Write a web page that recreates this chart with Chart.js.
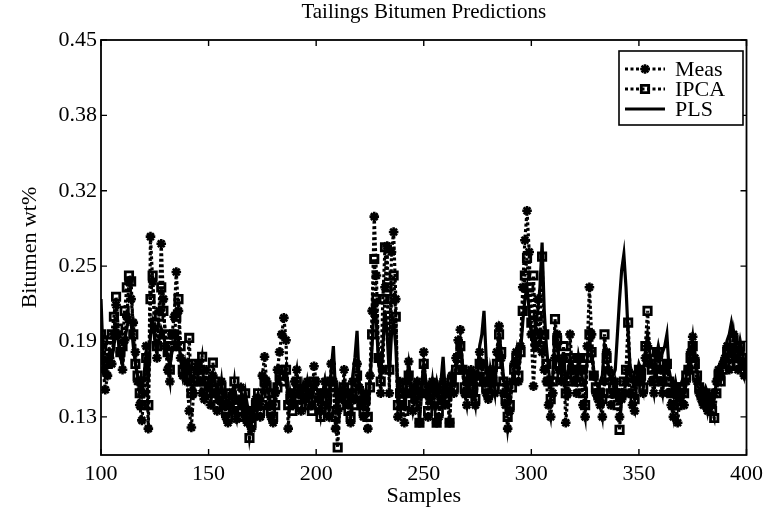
<!DOCTYPE html>
<html>
<head>
<meta charset="utf-8">
<script src="https://cdn.jsdelivr.net/npm/chart.js@4"></script>
<style>
  html, body { margin: 0; padding: 0; background: #ffffff; }
  #wrap { width: 769px; height: 515px; }
</style>
</head>
<body>
<div id="wrap"><canvas id="c" width="769" height="515"></canvas></div>
<script>
// ---- data ----
const chartTitle = 'Tailings Bitumen Predictions';
const xTitle = 'Samples';
const yTitle = 'Bitumen wt%';
const seriesNames = ['Meas', 'IPCA', 'PLS'];
const firstSample = 100;
const lastSample = 400;
const xTickValues = [100, 150, 200, 250, 300, 350, 400];
const yTickValues = [0.13, 0.194, 0.258, 0.322, 0.386, 0.45];
const yTickLabels = ['0.13', '0.19', '0.25', '0.32', '0.38', '0.45'];

const meas = [
  0.190,0.170,0.153,0.165,0.180,0.175,0.200,0.225,0.200,0.185, // 100
  0.170,0.195,0.215,0.245,0.230,0.210,0.185,0.160,0.140,0.127, // 110
  0.150,0.190,0.120,0.283,0.245,0.205,0.180,0.220,0.277,0.230, // 120
  0.190,0.170,0.160,0.200,0.215,0.253,0.220,0.180,0.165,0.175, // 130
  0.160,0.135,0.121,0.150,0.170,0.175,0.160,0.150,0.145,0.170, // 140
  0.155,0.140,0.165,0.150,0.135,0.145,0.160,0.140,0.130,0.125, // 150
  0.140,0.150,0.135,0.128,0.145,0.155,0.140,0.130,0.125,0.135, // 160
  0.120,0.130,0.145,0.140,0.130,0.165,0.181,0.160,0.140,0.130, // 170
  0.125,0.150,0.170,0.185,0.200,0.214,0.195,0.120,0.150,0.140, // 180
  0.160,0.170,0.150,0.135,0.155,0.145,0.160,0.150,0.140,0.173, // 190
  0.160,0.145,0.135,0.150,0.160,0.140,0.130,0.175,0.160,0.120, // 200
  0.135,0.150,0.145,0.170,0.150,0.140,0.125,0.160,0.145,0.175, // 210
  0.155,0.140,0.130,0.150,0.120,0.165,0.220,0.300,0.250,0.180, // 220
  0.150,0.170,0.240,0.275,0.150,0.270,0.287,0.230,0.130,0.160, // 230
  0.140,0.125,0.160,0.177,0.150,0.135,0.145,0.160,0.125,0.150, // 240
  0.185,0.150,0.130,0.145,0.160,0.140,0.125,0.130,0.145,0.160, // 250
  0.140,0.150,0.125,0.165,0.150,0.180,0.195,0.204,0.170,0.150, // 260
  0.140,0.160,0.170,0.150,0.140,0.165,0.185,0.175,0.160,0.150, // 270
  0.145,0.170,0.160,0.150,0.185,0.207,0.180,0.150,0.140,0.120, // 280
  0.135,0.160,0.175,0.185,0.160,0.190,0.240,0.280,0.305,0.270, // 290
  0.200,0.156,0.190,0.230,0.200,0.185,0.170,0.160,0.140,0.130, // 300
  0.150,0.180,0.200,0.170,0.160,0.180,0.125,0.150,0.200,0.170, // 310
  0.160,0.150,0.180,0.170,0.140,0.130,0.190,0.240,0.200,0.165, // 320
  0.150,0.145,0.140,0.130,0.160,0.185,0.170,0.140,0.150,0.160, // 330
  0.150,0.130,0.145,0.150,0.160,0.170,0.150,0.140,0.135,0.160, // 340
  0.170,0.165,0.150,0.180,0.190,0.175,0.160,0.150,0.170,0.180, // 350
  0.160,0.150,0.170,0.175,0.150,0.140,0.130,0.150,0.125,0.145, // 360
  0.150,0.140,0.160,0.170,0.185,0.198,0.180,0.160,0.150,0.145, // 370
  0.140,0.150,0.135,0.145,0.140,0.150,0.160,0.170,0.165,0.175, // 380
  0.180,0.190,0.170,0.185,0.200,0.180,0.170,0.185,0.175,0.165, // 390
  0.175                                                        // 400
];

const ipca = [
  0.200,0.195,0.180,0.175,0.190,0.200,0.215,0.232,0.205,0.185, // 100
  0.190,0.220,0.240,0.250,0.245,0.200,0.175,0.165,0.150,0.140, // 110
  0.160,0.180,0.140,0.230,0.250,0.210,0.190,0.215,0.240,0.220, // 120
  0.200,0.185,0.170,0.190,0.200,0.215,0.230,0.190,0.170,0.175, // 130
  0.165,0.197,0.150,0.160,0.175,0.160,0.170,0.181,0.160,0.150, // 140
  0.160,0.150,0.176,0.160,0.140,0.150,0.155,0.140,0.135,0.130, // 150
  0.150,0.145,0.160,0.140,0.135,0.130,0.140,0.150,0.130,0.112, // 160
  0.125,0.135,0.140,0.150,0.135,0.140,0.160,0.155,0.150,0.135, // 170
  0.130,0.140,0.155,0.165,0.170,0.160,0.170,0.140,0.145,0.135, // 180
  0.150,0.160,0.145,0.140,0.150,0.140,0.155,0.150,0.135,0.160, // 190
  0.150,0.140,0.130,0.145,0.150,0.145,0.135,0.160,0.155,0.130, // 200
  0.104,0.140,0.150,0.155,0.145,0.135,0.130,0.150,0.140,0.165, // 210
  0.150,0.140,0.135,0.145,0.130,0.155,0.200,0.264,0.230,0.180, // 220
  0.160,0.230,0.274,0.240,0.170,0.230,0.250,0.215,0.140,0.150, // 230
  0.140,0.135,0.155,0.165,0.150,0.140,0.150,0.155,0.125,0.150, // 240
  0.175,0.155,0.135,0.150,0.155,0.145,0.125,0.135,0.150,0.155, // 250
  0.145,0.150,0.125,0.160,0.155,0.170,0.180,0.190,0.170,0.155, // 260
  0.150,0.160,0.165,0.155,0.145,0.160,0.175,0.170,0.160,0.155, // 270
  0.150,0.165,0.160,0.155,0.175,0.200,0.185,0.160,0.145,0.130, // 280
  0.140,0.155,0.170,0.180,0.165,0.185,0.220,0.250,0.265,0.240, // 290
  0.210,0.250,0.200,0.215,0.190,0.266,0.200,0.175,0.160,0.145, // 300
  0.160,0.213,0.195,0.175,0.165,0.190,0.150,0.160,0.180,0.170, // 310
  0.165,0.160,0.180,0.170,0.150,0.140,0.180,0.200,0.185,0.165, // 320
  0.155,0.150,0.150,0.145,0.200,0.180,0.165,0.150,0.155,0.150, // 330
  0.140,0.119,0.150,0.160,0.170,0.210,0.165,0.150,0.145,0.160, // 340
  0.170,0.165,0.155,0.190,0.220,0.185,0.170,0.160,0.175,0.185, // 350
  0.165,0.160,0.170,0.175,0.160,0.150,0.140,0.155,0.140,0.150, // 360
  0.155,0.150,0.165,0.170,0.180,0.190,0.175,0.165,0.155,0.150, // 370
  0.145,0.150,0.140,0.145,0.135,0.129,0.150,0.165,0.160,0.170, // 380
  0.175,0.185,0.175,0.180,0.195,0.185,0.175,0.190,0.180,0.170, // 390
  0.175                                                        // 400
];

const pls = [
  0.230,0.180,0.170,0.175,0.185,0.180,0.190,0.205,0.195,0.180, // 100
  0.175,0.195,0.205,0.215,0.210,0.190,0.175,0.165,0.160,0.150, // 110
  0.165,0.185,0.160,0.200,0.210,0.195,0.185,0.195,0.205,0.200, // 120
  0.190,0.180,0.175,0.185,0.190,0.200,0.195,0.180,0.170,0.170, // 130
  0.165,0.175,0.160,0.165,0.170,0.165,0.170,0.170,0.160,0.155, // 140
  0.160,0.150,0.165,0.160,0.150,0.150,0.155,0.150,0.145,0.140, // 150
  0.150,0.145,0.155,0.145,0.140,0.140,0.145,0.150,0.140,0.135, // 160
  0.135,0.140,0.145,0.150,0.140,0.150,0.160,0.155,0.150,0.140, // 170
  0.140,0.150,0.160,0.165,0.170,0.165,0.160,0.150,0.150,0.145, // 180
  0.155,0.160,0.150,0.145,0.150,0.145,0.155,0.150,0.145,0.160, // 190
  0.155,0.150,0.145,0.150,0.160,0.150,0.145,0.170,0.190,0.150, // 200
  0.140,0.155,0.150,0.160,0.150,0.145,0.140,0.165,0.180,0.203, // 210
  0.160,0.150,0.145,0.150,0.140,0.160,0.190,0.230,0.210,0.175, // 220
  0.165,0.190,0.220,0.200,0.165,0.200,0.210,0.190,0.150,0.155, // 230
  0.150,0.145,0.160,0.175,0.160,0.150,0.155,0.160,0.150,0.155, // 240
  0.175,0.160,0.145,0.155,0.160,0.150,0.160,0.150,0.160,0.181, // 250
  0.150,0.155,0.150,0.165,0.160,0.170,0.185,0.195,0.175,0.160, // 260
  0.155,0.165,0.170,0.165,0.155,0.170,0.190,0.200,0.220,0.180, // 270
  0.160,0.170,0.165,0.160,0.180,0.200,0.185,0.165,0.155,0.145, // 280
  0.150,0.160,0.170,0.180,0.170,0.185,0.210,0.230,0.240,0.220, // 290
  0.200,0.190,0.210,0.220,0.240,0.278,0.220,0.190,0.170,0.155, // 300
  0.165,0.200,0.190,0.180,0.170,0.185,0.160,0.165,0.180,0.175, // 310
  0.170,0.165,0.175,0.170,0.160,0.155,0.180,0.195,0.185,0.170, // 320
  0.160,0.155,0.160,0.165,0.190,0.180,0.170,0.160,0.165,0.170, // 330
  0.200,0.230,0.255,0.268,0.240,0.200,0.170,0.160,0.155,0.165, // 340
  0.175,0.170,0.165,0.185,0.200,0.185,0.175,0.170,0.180,0.190, // 350
  0.180,0.185,0.190,0.200,0.170,0.160,0.150,0.160,0.150,0.155, // 360
  0.160,0.155,0.165,0.175,0.185,0.195,0.185,0.170,0.160,0.155, // 370
  0.150,0.155,0.150,0.150,0.145,0.145,0.160,0.170,0.170,0.180, // 380
  0.185,0.195,0.200,0.210,0.200,0.190,0.185,0.195,0.185,0.175, // 390
  0.180                                                        // 400
];

// ---- build ----
const samples = [];
for (let s = firstSample; s <= lastSample; s++) samples.push(s);
const toXY = arr => samples.map((s, i) => ({ x: s, y: arr[i] }));

const FONT = "'Liberation Serif', 'Times New Roman', serif";
const INK = '#000000';

const datasets = [
  { label: seriesNames[0], data: toXY(meas), borderColor: INK, borderWidth: 3.2,
    borderDash: [3, 2.5], pointStyle: 'star', pointRadius: 4.8, pointBorderWidth: 2.6,
    pointBorderColor: INK, pointBackgroundColor: INK, tension: 0, fill: false },
  { label: seriesNames[1], data: toXY(ipca), borderColor: INK, borderWidth: 3.2,
    borderDash: [3, 2.5], pointStyle: 'rect', pointRadius: 5.2, pointBorderWidth: 2.8,
    pointBorderColor: INK, pointBackgroundColor: 'rgba(255,255,255,0)', tension: 0, fill: false },
  { label: seriesNames[2], data: toXY(pls), borderColor: INK, borderWidth: 3.2,
    pointRadius: 0, tension: 0, fill: false }
];

// inward ticks and full box, like the original plot
const boxPlugin = {
  id: 'box',
  afterDatasetsDraw(chart) {
    const { ctx, chartArea: a, scales: { x, y } } = chart;
    ctx.save();
    ctx.strokeStyle = INK;
    ctx.lineWidth = 1.8;
    ctx.strokeRect(a.left, a.top, a.right - a.left, a.bottom - a.top);
    ctx.lineWidth = 1.4;
    const L = 6;
    ctx.beginPath();
    xTickValues.forEach(v => {
      const px = x.getPixelForValue(v);
      ctx.moveTo(px, a.bottom); ctx.lineTo(px, a.bottom - L);
      ctx.moveTo(px, a.top); ctx.lineTo(px, a.top + L);
    });
    yTickValues.forEach(v => {
      const py = y.getPixelForValue(v);
      ctx.moveTo(a.left, py); ctx.lineTo(a.left + L, py);
      ctx.moveTo(a.right, py); ctx.lineTo(a.right - L, py);
    });
    ctx.stroke();
    ctx.restore();
  }
};

// legend box inside the plot, top right
const legendPlugin = {
  id: 'boxLegend',
  afterDraw(chart) {
    const { ctx } = chart;
    const bx = 619, by = 51, bw = 124, bh = 74;
    ctx.save();
    ctx.fillStyle = '#ffffff';
    ctx.fillRect(bx, by, bw, bh);
    ctx.strokeStyle = INK;
    ctx.lineWidth = 1.6;
    ctx.strokeRect(bx, by, bw, bh);
    ctx.font = "22px " + FONT;
    ctx.textBaseline = 'middle';
    ctx.textAlign = 'left';
    ctx.fillStyle = INK;
    chart.data.datasets.forEach((ds, i) => {
      const yy = by + 18 + i * 20;
      ctx.save();
      ctx.lineWidth = ds.borderWidth;
      ctx.setLineDash(ds.borderDash || []);
      ctx.beginPath();
      ctx.moveTo(bx + 6, yy); ctx.lineTo(bx + 46, yy);
      ctx.stroke();
      ctx.restore();
      if (ds.pointRadius > 0) {
        ctx.save();
        ctx.lineWidth = ds.pointBorderWidth;
        ctx.strokeStyle = INK;
        ctx.fillStyle = ds.pointBackgroundColor;
        Chart.helpers.drawPoint(ctx, { pointStyle: ds.pointStyle, radius: ds.pointRadius, rotation: 0, borderWidth: ds.pointBorderWidth }, bx + 26, yy);
        ctx.restore();
      }
      ctx.fillStyle = INK;
      ctx.fillText(ds.label, bx + 56, yy + 1);
    });
    ctx.restore();
  }
};

new Chart(document.getElementById('c'), {
  type: 'line',
  data: { datasets },
  options: {
    responsive: false,
    animation: false,
    events: [],
    layout: { padding: { left: 0, right: 18, top: 0, bottom: 0 } },
    plugins: {
      legend: { display: false },
      tooltip: { enabled: false },
      title: {
        display: true, text: chartTitle, fullSize: false, color: INK,
        font: { family: FONT, size: 21, weight: 'normal' },
        padding: { top: 0, bottom: 14.8 }
      }
    },
    scales: {
      x: {
        type: 'linear', min: firstSample, max: lastSample,
        afterBuildTicks: s => { s.ticks = xTickValues.map(v => ({ value: v })); },
        afterFit: s => { s.height = 60; },
        grid: { display: false, drawTicks: false },
        border: { display: false },
        ticks: { color: INK, padding: 6, maxRotation: 0, autoSkip: false,
          font: { family: FONT, size: 22 }, callback: v => String(v) },
        title: { display: true, text: xTitle, color: INK,
          font: { family: FONT, size: 22 }, padding: { top: 0, bottom: 6 } }
      },
      y: {
        type: 'linear', min: 0.0976, max: 0.45,
        afterBuildTicks: s => { s.ticks = yTickValues.map(v => ({ value: v })); },
        afterFit: s => { s.width = 101; },
        grid: { display: false, drawTicks: false },
        border: { display: false },
        ticks: { color: INK, padding: 4, autoSkip: false,
          font: { family: FONT, size: 22 },
          callback: (v, i) => yTickLabels[i] },
        title: { display: true, text: yTitle, color: INK,
          font: { family: FONT, size: 22 }, padding: { top: 17, bottom: 0 } }
      }
    }
  },
  plugins: [boxPlugin, legendPlugin]
});
</script>
</body>
</html>
